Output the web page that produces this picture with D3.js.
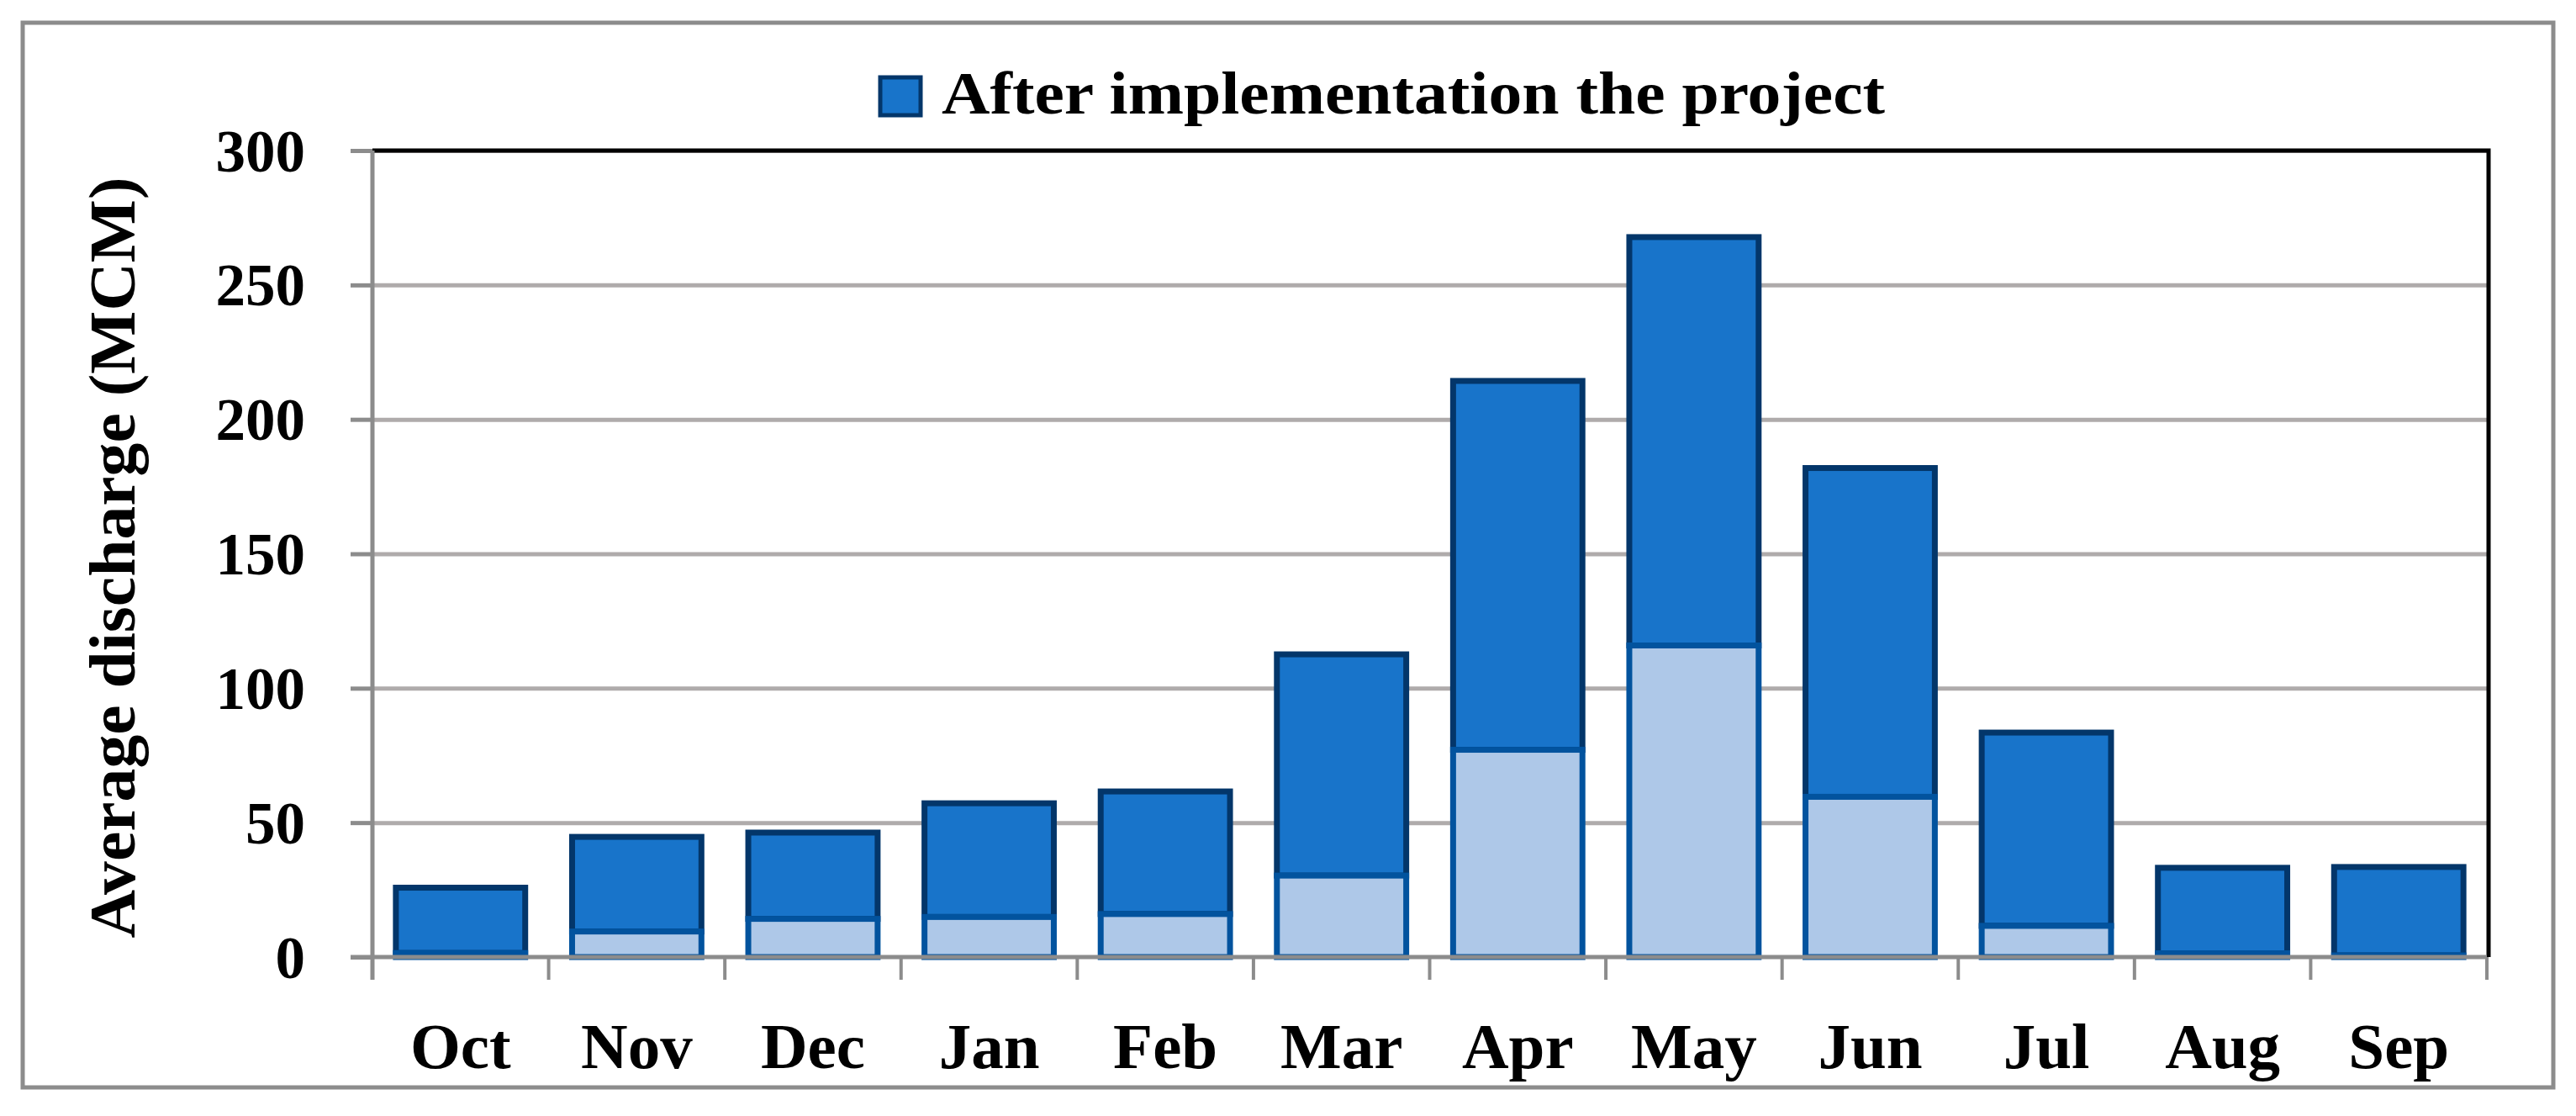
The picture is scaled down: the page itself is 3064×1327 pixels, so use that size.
<!DOCTYPE html>
<html>
<head>
<meta charset="utf-8">
<script src="https://cdn.jsdelivr.net/npm/d3@7"></script>
<style>
  html, body { margin: 0; padding: 0; background: #ffffff; }
  svg { display: block; }
  text { font-family: "Liberation Serif", "Times New Roman", serif; font-weight: bold; fill: #000; }
</style>
</head>
<body>
<svg id="chart" width="3064" height="1327"></svg>
<script>
// ---- data ----
const months = ["Oct", "Nov", "Dec", "Jan", "Feb", "Mar", "Apr", "May", "Jun", "Jul", "Aug", "Sep"];
// lower (light) segment
const beforeValues = [1.5, 9.5, 14.2, 14.9, 16.0, 30.3, 77.1, 115.9, 59.6, 11.6, 1.4, 0.6];
// upper (dark) segment stacked on the lower one
const afterValues = [24.3, 35.2, 32.1, 42.3, 45.6, 82.3, 137.2, 151.9, 122.3, 71.9, 31.8, 32.9];
const yTicks = [0, 50, 100, 150, 200, 250, 300];
const legendLabel = "After implementation the project";
const yTitle = "Average discharge (MCM)";

// ---- layout ----
const plot = { left: 443, right: 2958, top: 179, bottom: 1138 };

const svg = d3.select("#chart");

const x = d3.scaleBand()
  .domain(months)
  .range([plot.left, plot.right])
  .paddingInner(0.266)
  .paddingOuter(0.133);

const y = d3.scaleLinear().domain([0, 300]).range([plot.bottom, plot.top]);

// outer frame
svg.append("rect")
  .attr("x", 27).attr("y", 27)
  .attr("width", 3037 - 27).attr("height", 1293 - 27)
  .attr("fill", "#ffffff")
  .attr("stroke", "#8c8c8c").attr("stroke-width", 5);

// gridlines
const grid = svg.append("g")
  .attr("transform", `translate(${plot.left},0)`)
  .call(d3.axisLeft(y).tickValues(yTicks.filter(t => t > 0)).tickSize(-(plot.right - plot.left)).tickFormat(""));
grid.select(".domain").remove();
grid.selectAll(".tick line").attr("stroke", "#afabab").attr("stroke-width", 5);

// plot border top & right (black)
svg.append("path")
  .attr("d", `M${plot.left},${y(300)}H${plot.right + 2}V${plot.bottom}`)
  .attr("fill", "none").attr("stroke", "#000").attr("stroke-width", 5);

// stacked data
const rows = months.map((m, i) => ({ month: m, before: beforeValues[i], after: afterValues[i] }));
const stack = d3.stack().keys(["before", "after"])(rows);

const styles = {
  before: { fill: "#aec8e8", stroke: "#02539e" },
  after:  { fill: "#1874ca", stroke: "#03366a" }
};

// draw dark (upper) first, then light (lower) on top
["after", "before"].forEach(key => {
  const layer = stack.find(s => s.key === key);
  svg.append("g")
    .selectAll("rect")
    .data(layer)
    .join("rect")
    .attr("x", d => x(d.data.month))
    .attr("width", x.bandwidth())
    .attr("y", d => y(d[1]))
    .attr("height", d => y(d[0]) - y(d[1]))
    .attr("fill", styles[key].fill)
    .attr("stroke", styles[key].stroke)
    .attr("stroke-width", 7);
});

// y axis
const yAxis = svg.append("g")
  .attr("transform", `translate(${plot.left},0)`)
  .call(d3.axisLeft(y).tickValues(yTicks).tickSize(26).tickPadding(54).tickFormat(d3.format("d")));
yAxis.select(".domain").remove();
yAxis.selectAll(".tick line").attr("stroke", "#8c8c8c").attr("stroke-width", 5);
yAxis.selectAll(".tick text")
  .style("font-family", "'Liberation Serif', serif")
  .style("font-weight", "bold")
  .style("font-size", "71px")
  .attr("fill", "#000")
  .attr("dy", "0.34em");
svg.append("line")
  .attr("x1", plot.left).attr("x2", plot.left)
  .attr("y1", plot.top).attr("y2", plot.bottom + 27)
  .attr("stroke", "#8c8c8c").attr("stroke-width", 5);

// x axis line
svg.append("line")
  .attr("x1", plot.left - 26).attr("x2", plot.right)
  .attr("y1", plot.bottom).attr("y2", plot.bottom)
  .attr("stroke", "#8c8c8c").attr("stroke-width", 5);

// x ticks at category boundaries
const half = (x.step() - x.bandwidth()) / 2;
const boundaries = months.map(m => x(m) - half).concat([x(months[months.length - 1]) + x.bandwidth() + half]);
svg.append("g").selectAll("line")
  .data(boundaries)
  .join("line")
  .attr("x1", d => d).attr("x2", d => d)
  .attr("y1", plot.bottom).attr("y2", plot.bottom + 27)
  .attr("stroke", "#8c8c8c").attr("stroke-width", 4);

// x labels
const xAxis = svg.append("g")
  .attr("transform", `translate(0,${plot.bottom})`)
  .call(d3.axisBottom(x).tickSize(0).tickPadding(0));
xAxis.select(".domain").remove();
xAxis.selectAll(".tick text")
  .attr("y", 132)
  .attr("dy", 0)
  .style("font-family", "'Liberation Serif', serif")
  .style("font-weight", "bold")
  .style("font-size", "77px")
  .attr("fill", "#000");

// y title
svg.append("text")
  .attr("transform", `translate(160,663) rotate(-90)`)
  .attr("text-anchor", "middle")
  .attr("textLength", 905)
  .attr("lengthAdjust", "spacingAndGlyphs")
  .style("font-size", "78px")
  .text(yTitle);

// legend
svg.append("rect")
  .attr("x", 1047).attr("y", 92)
  .attr("width", 48).attr("height", 45)
  .attr("fill", styles.after.fill)
  .attr("stroke", styles.after.stroke)
  .attr("stroke-width", 5);
svg.append("text")
  .attr("x", 1120).attr("y", 135)
  .attr("textLength", 1122)
  .attr("lengthAdjust", "spacingAndGlyphs")
  .style("font-size", "72px")
  .text(legendLabel);
</script>
</body>
</html>
